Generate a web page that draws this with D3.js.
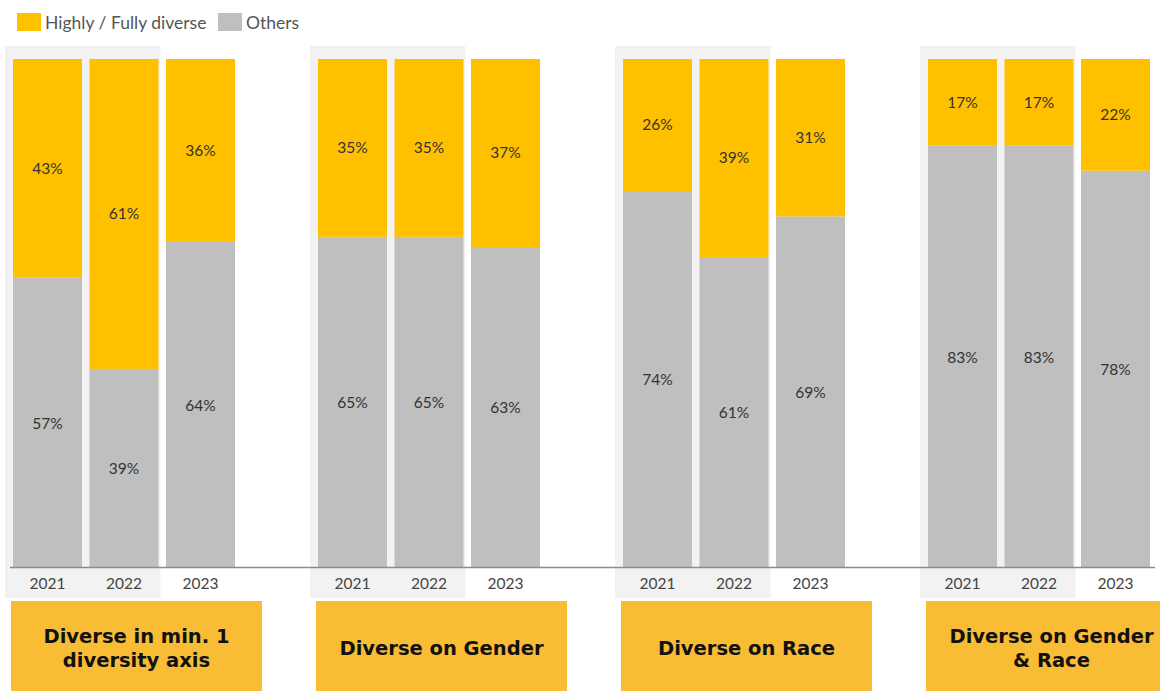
<!DOCTYPE html>
<html>
<head>
<meta charset="utf-8">
<script src="https://cdn.jsdelivr.net/npm/d3@7"></script>
<style>
  html, body { margin: 0; padding: 0; background: #ffffff; }
  svg { display: block; font-family: "Lato", "Open Sans", sans-serif; }
</style>
</head>
<body>
<svg id="chart" width="1160" height="691"></svg>
<script>
// Share of boards per diversity measure, by year
const groups = [
  "Diverse in min. 1|diversity axis",
  "Diverse on Gender",
  "Diverse on Race",
  "Diverse on Gender|& Race"
];
const years = ["2021", "2022", "2023"];
const highlyDiverse = [
  [43, 61, 36],
  [35, 35, 37],
  [26, 39, 31],
  [17, 17, 22]
];
const others = [
  [57, 39, 64],
  [65, 65, 63],
  [74, 61, 69],
  [83, 83, 78]
];
const seriesNames = ["Highly / Fully diverse", "Others"];
const highlightedYears = ["2021", "2022"];

const colors = { high: "#FFC000", other: "#BFBFBF", panel: "#F2F2F2", box: "#F9BC35", axis: "#8C8C8C", text: "#333333" };

const svg = d3.select("#chart");
const W = 1160, H = 691;

const plotTop = 59, plotBottom = 567;
const y = d3.scaleLinear().domain([0, 100]).range([plotBottom, plotTop]);

// Outer scale places each group, inner scale places the years inside a group
const groupStep = 305;
const x0 = d3.scaleBand().domain(d3.range(groups.length))
  .range([9.25, 9.25 + groupStep * groups.length]).padding(0);
const x1 = d3.scaleBand().domain(years)
  .range([0, 229.5]).paddingInner(0.098).paddingOuter(0.049);

// Flattened records for drawing
const records = [];
groups.forEach((g, gi) => {
  years.forEach((yr, yi) => {
    records.push({ gi, yr, high: highlyDiverse[gi][yi], other: others[gi][yi] });
  });
});

const barX = d => x0(d.gi) + x1(d.yr);
const bw = x1.bandwidth();

// Shaded panels behind the 2021-2022 columns
groups.forEach((g, gi) => {
  const left = x0(gi) + x1(highlightedYears[0]) - 8;
  const right = x0(gi) + x1(highlightedYears[1]) + bw + 2;
  svg.append("rect")
    .attr("x", left).attr("y", 46)
    .attr("width", right - left).attr("height", 598 - 46)
    .attr("fill", colors.panel);
});

// Stacked bars: "Others" at the base, highly diverse on top
const bars = svg.append("g");
bars.selectAll("rect.other").data(records).join("rect")
  .attr("class", "other")
  .attr("x", barX).attr("width", bw)
  .attr("y", d => y(d.other)).attr("height", d => y(0) - y(d.other))
  .attr("fill", colors.other);
bars.selectAll("rect.high").data(records).join("rect")
  .attr("class", "high")
  .attr("x", barX).attr("width", bw)
  .attr("y", d => y(d.other + d.high)).attr("height", d => y(d.other) - y(d.other + d.high))
  .attr("fill", colors.high);

// Value labels centred in each segment
const labels = svg.append("g")
  .attr("font-size", 15.5).attr("fill", colors.text).attr("text-anchor", "middle");
labels.selectAll("text.hv").data(records).join("text")
  .attr("x", d => barX(d) + bw / 2)
  .attr("y", d => (y(d.other) + y(d.other + d.high)) / 2)
  .attr("dy", "0.35em")
  .text(d => d.high + "%");
labels.selectAll("text.ov").data(records).join("text")
  .attr("x", d => barX(d) + bw / 2)
  .attr("y", d => (y(0) + y(d.other)) / 2 + 1)
  .attr("dy", "0.35em")
  .text(d => d.other + "%");

// Baseline
svg.append("line")
  .attr("x1", 10).attr("x2", 1155)
  .attr("y1", y(0) + 0.5).attr("y2", y(0) + 0.5)
  .attr("stroke", colors.axis).attr("stroke-width", 1.5);

// Year tick labels per group using a bottom axis
groups.forEach((g, gi) => {
  const ax = svg.append("g")
    .attr("transform", `translate(${x0(gi)},${y(0)})`)
    .call(d3.axisBottom(x1).tickSize(0).tickPadding(11));
  ax.select(".domain").remove();
  ax.selectAll("text")
    .attr("font-family", "Lato, 'Open Sans', sans-serif")
    .attr("font-size", 15.5).attr("fill", "#444");
});

// Category boxes under each group
groups.forEach((g, gi) => {
  const left = x0(gi) + x1(years[0]) - 2;
  const boxW = 251;
  svg.append("rect")
    .attr("x", left).attr("y", 601)
    .attr("width", boxW).attr("height", H - 601)
    .attr("fill", colors.box);
  const lines = g.split("|");
  const cy = 648;
  const lh = 24;
  const t = svg.append("text")
    .attr("x", left + boxW / 2)
    .attr("text-anchor", "middle")
    .attr("font-family", "'DejaVu Sans', sans-serif")
    .attr("font-size", 19.5).attr("font-weight", "bold").attr("fill", "#111");
  lines.forEach((ln, i) => {
    t.append("tspan")
      .attr("x", left + boxW / 2)
      .attr("y", cy + (i - (lines.length - 1) / 2) * lh)
      .attr("dy", "0.35em")
      .text(ln);
  });
});

// Legend
const legend = svg.append("g").attr("font-size", 17.5).attr("fill", "#555");
const legendItems = [
  { name: seriesNames[0], color: colors.high, x: 17 },
  { name: seriesNames[1], color: colors.other, x: 218 }
];
legendItems.forEach(it => {
  legend.append("rect").attr("x", it.x).attr("y", 13).attr("width", 24).attr("height", 18).attr("fill", it.color);
  legend.append("text").attr("x", it.x + 28).attr("y", 23).attr("dy", "0.35em").text(it.name);
});
</script>
</body>
</html>
